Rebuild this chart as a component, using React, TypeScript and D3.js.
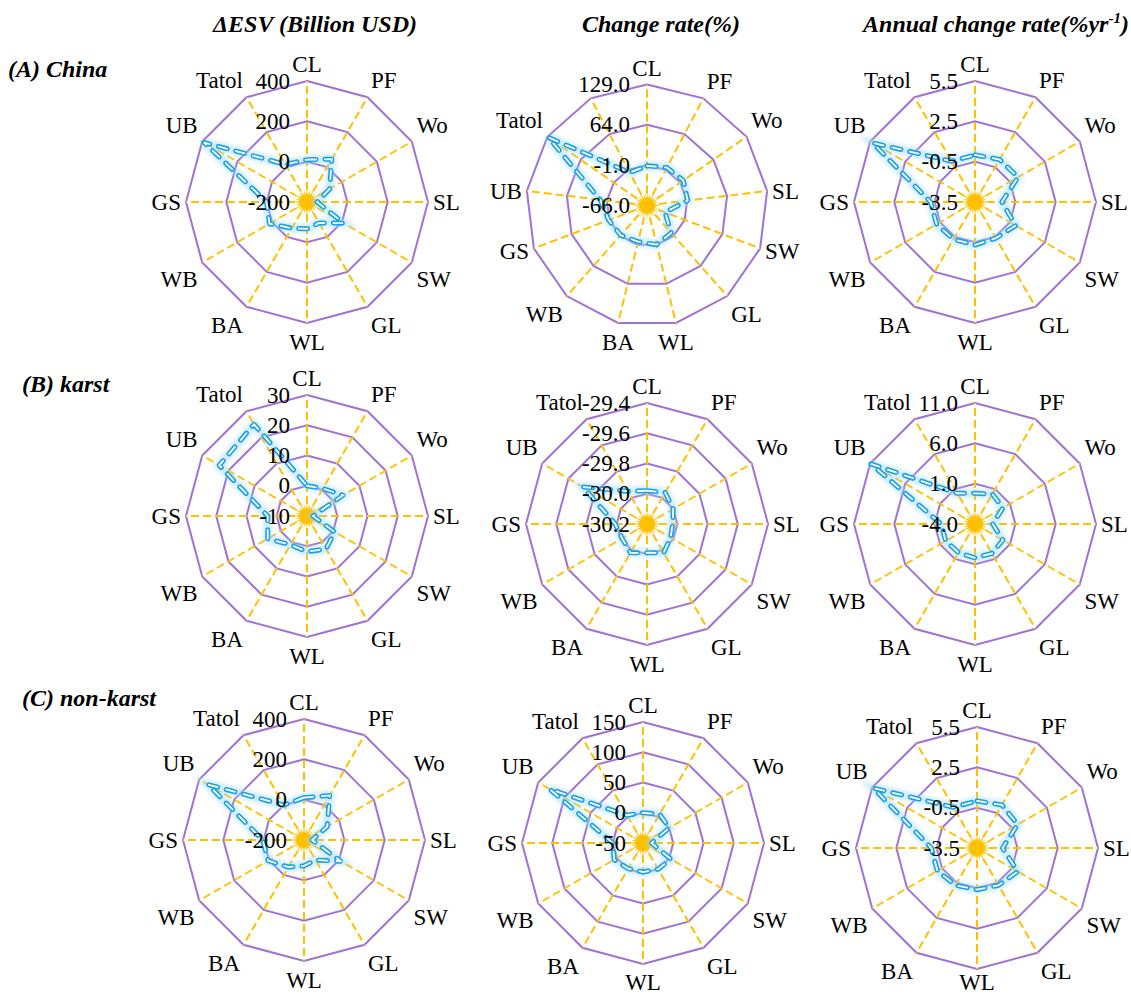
import React, { useEffect, useRef } from "react";
import * as d3 from "d3";

// categories (axes) of each radar
const categories = ["CL", "PF", "Wo", "SL", "SW", "GL", "WL", "BA", "WB", "GS", "UB", "Tatol"];
// the China change-rate chart has one extra unlabeled axis
const categoriesChinaRate = [...categories, ""];

// (A) China
const chinaESV = [10, 45, -70, -150, 10, -80, -67, -50, 15, 0, 390, 15];
const chinaRate = [-2, 3, 5, 0, -35, -7, -1, -6, -2, 0, 10, 127, -6];
const chinaAnnual = [0, 0.15, 0.2, -1.5, 0, -0.4, -0.3, -0.3, -0.2, -0.2, 5.3, 0];

// (B) karst
const karstESV = [0, 0.5, 3.7, -8, 0.5, 2.6, 1.8, 1, 5, 3, 23.5, 25];
const karstRate = [-29.98, -29.96, -30.0, -30.03, -30.02, -29.98, -30.01, -29.98, -30.01, -29.99, -29.71, -29.95];
const karstAnnual = [-0.2, 0.3, 0, -1.8, 0, 0.2, 0.2, 0.1, 0.2, 0.2, 10.9, 0.4];

// (C) non-karst
const nonKarstESV = [10, 55, -67, -160, 10, -85, -72, -45, 5, 5, 350, 0];
const nonKarstRate = [0, 5, 0, -36, 3, 0, -2, -1, 5, 0, 128, 3];
const nonKarstAnnual = [0, 0.2, 0, -1.6, 0, -0.3, -0.4, -0.3, -0.1, -0.1, 5.4, 0];

// tick values (first = centre)
const ticksESV = [-200, 0, 200, 400];
const ticksChinaRate = [-66, -1, 64, 129];
const ticksAnnual = [-3.5, -0.5, 2.5, 5.5];
const ticksKarstESV = [-10, 0, 10, 20, 30];
const ticksKarstRate = [-30.2, -30.0, -29.8, -29.6, -29.4];
const ticksKarstAnnual = [-4, 1, 6, 11];
const ticksNonKarstRate = [-50, 0, 50, 100, 150];

const rowTitles = ["(A) China", "(B) karst", "(C) non-karst"];

const locale = d3.formatLocale({ decimal: ".", thousands: ",", grouping: [3], currency: ["", ""], minus: "-" });
const fInt = locale.format("d");
const f1 = locale.format(".1f");

const FONT = "'Liberation Serif', 'Times New Roman', serif";
const R = 121;
const H = 998;

const panels = [
  { cx: 307, cy: 202, cats: categories, values: chinaESV, ticks: ticksESV, fmt: fInt },
  { cx: 647, cy: 205.5, cats: categoriesChinaRate, values: chinaRate, ticks: ticksChinaRate, fmt: f1 },
  { cx: 975, cy: 202, cats: categories, values: chinaAnnual, ticks: ticksAnnual, fmt: f1 },
  { cx: 307, cy: 516, cats: categories, values: karstESV, ticks: ticksKarstESV, fmt: fInt },
  { cx: 647, cy: 524, cats: categories, values: karstRate, ticks: ticksKarstRate, fmt: f1 },
  { cx: 975, cy: 524, cats: categories, values: karstAnnual, ticks: ticksKarstAnnual, fmt: f1 },
  { cx: 304, cy: 840, cats: categories, values: nonKarstESV, ticks: ticksESV, fmt: fInt },
  { cx: 643, cy: 843, cats: categories, values: nonKarstRate, ticks: ticksNonKarstRate, fmt: fInt },
  { cx: 977, cy: 848, cats: categories, values: nonKarstAnnual, ticks: ticksAnnual, fmt: f1 },
];

const smooth = (a: number, b: number, x: number) => {
  const t = Math.max(0, Math.min(1, (x - a) / (b - a)));
  return t * t * (3 - 2 * t);
};

const App = () => {
  const svgRef = useRef<SVGSVGElement>(null);

  useEffect(() => {
    const svg = d3.select(svgRef.current);
    svg.selectAll("*").remove();

    const defs = svg.append("defs");
    defs
      .append("filter")
      .attr("id", "glow")
      .attr("filterUnits", "userSpaceOnUse")
      .attr("x", -200)
      .attr("y", -200)
      .attr("width", 400)
      .attr("height", 400)
      .append("feGaussianBlur")
      .attr("stdDeviation", 2.2);

    // column titles
    const titles = svg.append("g").attr("font-family", FONT).attr("font-weight", "bold").attr("font-style", "italic").attr("font-size", 24);
    titles.append("text").attr("x", 315).attr("y", 32).attr("text-anchor", "middle").text("ΔESV (Billion USD)");
    titles.append("text").attr("x", 661).attr("y", 32).attr("text-anchor", "middle").text("Change rate(%)");
    const t3 = titles.append("text").attr("x", 996).attr("y", 32).attr("text-anchor", "middle");
    t3.append("tspan").text("Annual change rate(%yr");
    t3.append("tspan").attr("dy", -9).attr("font-size", 15).text("-1");
    t3.append("tspan").attr("dy", 9).text(")");

    // row titles
    const rowPos = [
      [8, 77],
      [22, 392],
      [22, 706],
    ];
    rowTitles.forEach((t, i) => {
      titles.append("text").attr("x", rowPos[i][0]).attr("y", rowPos[i][1]).text(t);
    });

    panels.forEach((p) => {
      const n = p.cats.length;
      const g = svg.append("g").attr("transform", `translate(${p.cx},${p.cy})`);
      const r = d3.scaleLinear().domain([p.ticks[0], p.ticks[p.ticks.length - 1]]).range([0, R]);
      const angle = d3.scaleLinear().domain([0, n]).range([0, 2 * Math.PI]);
      const idx = d3.range(n);

      // purple rings
      p.ticks.slice(1).forEach((t) => {
        const ring = d3
          .lineRadial<number>()
          .angle((i) => angle(i))
          .radius(() => r(t))
          .curve(d3.curveLinearClosed);
        g.append("path").attr("d", ring(idx)).attr("fill", "none").attr("stroke", "#A072D3").attr("stroke-width", 2);
      });

      // orange dashed spokes
      idx.forEach((i) => {
        const a = angle(i);
        g.append("line")
          .attr("x1", 0)
          .attr("y1", 0)
          .attr("x2", R * Math.sin(a))
          .attr("y2", -R * Math.cos(a))
          .attr("stroke", "#FFC000")
          .attr("stroke-width", 2)
          .attr("stroke-dasharray", "8,4");
      });

      // centre star
      const starPts = d3.range(48).map((k) => ({ a: (k * Math.PI) / 24, rr: k % 2 === 0 ? (k % 4 === 0 ? 14 : 12) : 7 }));
      const star = d3
        .lineRadial<{ a: number; rr: number }>()
        .angle((d) => d.a)
        .radius((d) => d.rr)
        .curve(d3.curveLinearClosed);
      g.append("path").attr("d", star(starPts)).attr("fill", "#FFC000");

      // data line
      const line = d3
        .lineRadial<number>()
        .angle((_, i) => angle(i))
        .radius((d) => r(d))
        .curve(d3.curveLinearClosed);
      const dPath = line(p.values);
      g.append("path").attr("d", dPath).attr("fill", "none").attr("stroke", "#9FD8F4").attr("stroke-width", 9).attr("opacity", 0.5).attr("filter", "url(#glow)");
      g.append("path")
        .attr("d", dPath)
        .attr("fill", "none")
        .attr("stroke", "#17A3E3")
        .attr("stroke-width", 5)
        .attr("stroke-dasharray", "9,9")
        .attr("stroke-linecap", "round")
        .attr("stroke-linejoin", "round");
      g.append("path")
        .attr("d", dPath)
        .attr("fill", "none")
        .attr("stroke", "#FFFFFF")
        .attr("stroke-width", 1.8)
        .attr("stroke-dasharray", "9,9")
        .attr("stroke-linecap", "round");

      // tick labels
      p.ticks.forEach((t) => {
        g.append("text")
          .attr("x", -17)
          .attr("y", -r(t) + 7.6)
          .attr("text-anchor", "end")
          .attr("font-family", FONT)
          .attr("font-size", 23)
          .text(p.fmt(t));
      });

      // category labels
      p.cats.forEach((c, i) => {
        if (!c) return;
        const a = angle(i);
        const sx = Math.sin(a);
        const sy = -Math.cos(a);
        const vx = R * sx;
        const vy = R * sy;
        const txt = g.append("text").attr("font-family", FONT).attr("font-size", 23).attr("text-anchor", "middle").text(c);
        const w = (txt.node() as SVGTextElement).getComputedTextLength();
        const fx = Math.sign(sx) * smooth(0.25, 0.45, Math.abs(sx));
        const fy = Math.sign(sy) * smooth(0.3, 0.5, Math.abs(sy));
        const gx = 2 + 3 * Math.abs(sx);
        const hy = sy < 0 ? 16.5 : 17 + 2.5 * Math.max(0, (sy - 0.5) / 0.5);
        // keep the baseline clear of the bottom edge
        const y = Math.min(vy + Math.abs(fy) * hy * Math.sign(sy) + 7.6, H - 8 - p.cy);
        txt.attr("x", vx + fx * (w / 2 + gx)).attr("y", y);
      });
    });
  }, []);

  return (
    <svg
      ref={svgRef}
      width={1131}
      height={H}
      style={{ position: "absolute", left: 0, top: 0, background: "#ffffff", display: "block" }}
    ></svg>
  );
};

export default App;
